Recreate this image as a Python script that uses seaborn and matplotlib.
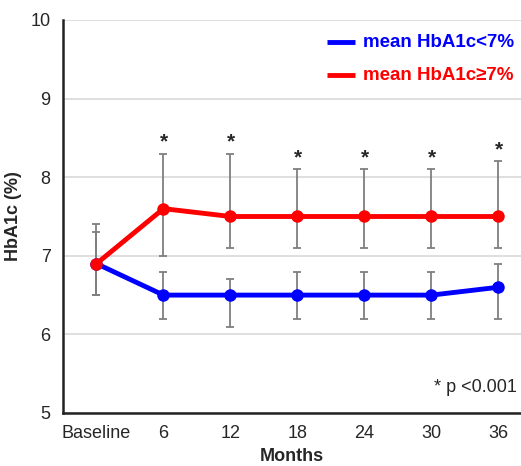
import pandas as pd
import numpy as np
import matplotlib.pyplot as plt
import seaborn as sns

# values
months = ["Baseline", "6", "12", "18", "24", "30", "36"]
low_mean = [6.9, 6.5, 6.5, 6.5, 6.5, 6.5, 6.6]
low_lower = [6.5, 6.2, 6.1, 6.2, 6.2, 6.2, 6.2]
low_upper = [7.3, 6.8, 6.7, 6.8, 6.8, 6.8, 6.9]
high_mean = [6.9, 7.6, 7.5, 7.5, 7.5, 7.5, 7.5]
high_lower = [6.5, 7.0, 7.1, 7.1, 7.1, 7.1, 7.1]
high_upper = [7.4, 8.3, 8.3, 8.1, 8.1, 8.1, 8.2]
significant = [False, True, True, True, True, True, True]

labels = ["mean HbA1c<7%", "mean HbA1c\u22657%"]
colors = ["#0000ff", "#ff0000"]

df = pd.DataFrame({
    "Months": months * 2,
    "pos": list(range(len(months))) * 2,
    "HbA1c": low_mean + high_mean,
    "lower": low_lower + high_lower,
    "upper": low_upper + high_upper,
    "group": [labels[0]] * len(months) + [labels[1]] * len(months),
})

sns.set_theme(style="white")
plt.rcParams["font.family"] = ["Liberation Sans", "DejaVu Sans"]

fig = plt.figure(figsize=(5.21, 4.66), dpi=100)
ax = fig.add_axes([63 / 521, 1 - 413 / 466, 1 - 63 / 521, 393 / 466])

# error bars first, gray, behind the lines
for g in labels:
    d = df[df["group"] == g]
    ax.errorbar(d["pos"], d["HbA1c"],
                yerr=[d["HbA1c"] - d["lower"], d["upper"] - d["HbA1c"]],
                fmt="none", ecolor="#7f7f7f", elinewidth=1.3, capsize=3,
                capthick=1.3, zorder=2)

sns.lineplot(data=df, x="pos", y="HbA1c", hue="group", palette=colors,
             hue_order=labels, marker="o", markersize=9, markeredgewidth=0,
             linewidth=3.5, ax=ax, legend=False, zorder=3)

# asterisks above upper caps of the red series
for i, s in enumerate(significant):
    if s:
        ax.text(i, high_upper[i] + 0.03, "*", ha="center", va="bottom",
                fontsize=15, fontweight="bold")

ax.text(0.99, 0.066, "* p <0.001", transform=ax.transAxes, ha="right",
        va="center", fontsize=13)

# legend as colored text
for k, (lab, col) in enumerate(zip(labels, colors)):
    y = 0.944 - k * 0.084
    ax.plot([0.576, 0.638], [y, y], transform=ax.transAxes, color=col,
            linewidth=3.5, solid_capstyle="butt")
    ax.text(0.655, y, lab, transform=ax.transAxes, color=col, fontsize=13.5,
            fontweight="bold", va="center", ha="left")

ax.set_xlim(-0.5, 6.336)
ax.set_ylim(5, 10)
ax.set_yticks([5, 6, 7, 8, 9, 10])
ax.set_xticks(range(len(months)))
ax.set_xticklabels(months)
ax.tick_params(axis="both", labelsize=13, length=0, pad=9)
ax.yaxis.grid(True, color="#d9d9d9", linewidth=1.2)
ax.set_axisbelow(True)

ax.set_xlabel("Months", fontsize=13, fontweight="bold", labelpad=4)
ax.set_ylabel("HbA1c (%)", fontsize=13, fontweight="bold", labelpad=6)

for side in ["top", "right"]:
    ax.spines[side].set_visible(False)
for side in ["left", "bottom"]:
    ax.spines[side].set_color("#222222")
    ax.spines[side].set_linewidth(1.8)

fig.savefig("out.png", dpi=100)
